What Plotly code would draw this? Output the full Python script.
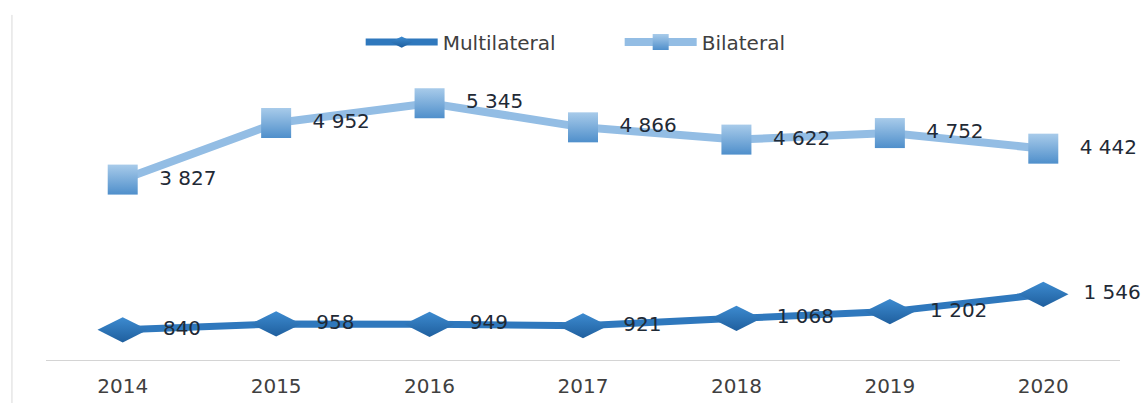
import plotly.graph_objects as go

years = ["2014", "2015", "2016", "2017", "2018", "2019", "2020"]
multilateral = [840, 958, 949, 921, 1068, 1202, 1546]
bilateral = [3827, 4952, 5345, 4866, 4622, 4752, 4442]


def fmt(v):
    # thousands separated by a space, padded away from the marker
    return "\u00a0\u00a0\u2009" + f"{v:,}".replace(",", " ")


label_font = dict(family="DejaVu Sans", size=20, color="#1f2a36")

fig = go.Figure()

fig.add_trace(go.Scatter(
    x=years, y=multilateral, name="Multilateral",
    mode="lines+markers+text",
    line=dict(color="#2f78bd", width=7),
    marker=dict(symbol="diamond-wide", size=36, color="#3d8bd0",
                gradient=dict(type="vertical", color="#1f5f9e"),
                line=dict(width=0)),
    text=[fmt(v) for v in multilateral], textposition="middle right",
    textfont=label_font, cliponaxis=False,
))

fig.add_trace(go.Scatter(
    x=years, y=bilateral, name="Bilateral",
    mode="lines+markers+text",
    line=dict(color="#93bde4", width=8),
    marker=dict(symbol="square", size=30, color="#a8cbea",
                gradient=dict(type="vertical", color="#4f8fcb"),
                line=dict(width=0)),
    text=[fmt(v) for v in bilateral], textposition="middle right",
    textfont=label_font, cliponaxis=False,
))

fig.update_layout(
    width=1142, height=403,
    margin=dict(l=46, r=22, t=20, b=43, autoexpand=False),
    paper_bgcolor="white", plot_bgcolor="white",
    showlegend=True,
    legend=dict(orientation="h", x=0.293, xanchor="left", y=0.935,
                yanchor="middle", itemwidth=72,
                entrywidth=172, entrywidthmode="pixels",
                font=dict(family="DejaVu Sans", size=20, color="#404040"),
                bgcolor="rgba(0,0,0,0)"),
    xaxis=dict(type="category", range=[-0.5, 6.5], showgrid=False,
               showline=True, linecolor="#d4d4d4", linewidth=1,
               ticks="", ticklabelstandoff=8, automargin=False,
               tickfont=dict(family="DejaVu Sans", size=20, color="#404040"),
               zeroline=False),
    yaxis=dict(range=[240, 7000], visible=False, showgrid=False,
               zeroline=False, automargin=False),
    shapes=[dict(type="line", xref="paper", yref="paper",
                 x0=-0.0317, x1=-0.0317, y0=-0.13, y1=1.015,
                 line=dict(color="#d9d9d9", width=1))],
)

fig.write_html("out.html")
